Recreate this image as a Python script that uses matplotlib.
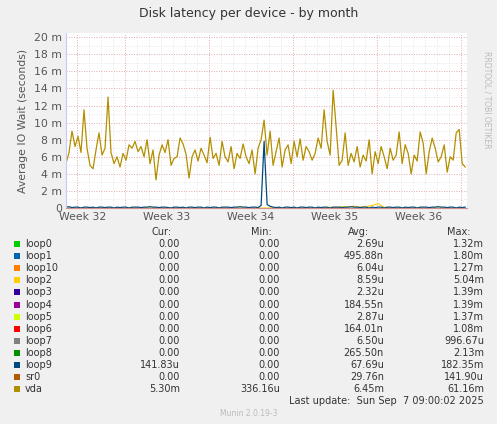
import numpy as np
import matplotlib
matplotlib.use("Agg")
import matplotlib.pyplot as plt

# vda average IO wait (ms), one value every 6 hours
vda = [5.2,6.5,9.0,7.2,8.4,6.5,11.5,7.0,5.0,4.6,6.8,8.8,6.2,7.0,
       13.0,6.5,5.2,6.0,4.8,6.4,5.6,7.4,7.0,7.8,6.6,7.2,6.0,8.0,
       5.2,6.8,3.3,6.2,7.4,6.5,8.0,5.0,5.8,6.0,8.2,7.5,6.3,3.5,
       6.0,6.8,5.5,7.0,6.2,5.3,8.3,5.8,6.4,5.0,7.8,6.0,5.4,7.2,
       4.6,6.4,5.8,7.5,6.0,5.2,6.8,4.0,7.0,8.0,10.3,6.2,9.0,5.0,
       6.6,8.2,4.8,6.8,7.4,5.2,7.8,6.0,8.1,5.6,7.2,6.6,5.6,6.4,
       8.2,7.0,11.5,7.8,6.2,13.8,9.5,5.0,5.6,8.8,5.0,6.4,5.4,7.2,
       4.8,6.2,5.5,8.0,4.0,6.6,5.2,7.2,6.0,4.6,7.0,5.6,6.2,8.9,
       5.2,7.4,6.4,4.0,6.2,5.5,8.9,7.6,4.0,6.6,8.2,7.0,5.4,6.0,
       7.4,4.2,6.0,5.6,8.8,9.2,5.2,4.8]
# loop9 (ms), one value every 6 hours
loop9 = [0.1,0.15,0.05,0.1,0.1,0.0,0.1,0.1,0.05,0.1,0.0,0.1,0.1,0.05,
         0.1,0.1,0.0,0.1,0.05,0.1,0.1,0.0,0.1,0.1,0.1,0.05,0.1,0.1,
         0.15,0.1,0.1,0.05,0.1,0.1,0.05,0.0,0.1,0.1,0.05,0.1,0.0,0.1,
         0.1,0.05,0.1,0.1,0.0,0.1,0.05,0.1,0.1,0.0,0.1,0.1,0.1,0.05,
         0.1,0.1,0.15,0.1,0.1,0.05,0.1,0.1,0.05,0.3,7.8,0.4,0.2,0.1,
         0.05,0.1,0.0,0.1,0.1,0.05,0.1,0.0,0.1,0.1,0.05,0.1,0.1,0.0,
         0.1,0.05,0.1,0.1,0.0,0.1,0.1,0.1,0.05,0.1,0.1,0.15,0.1,0.1,
         0.05,0.1,0.1,0.0,0.1,0.05,0.1,0.1,0.0,0.1,0.1,0.05,0.1,0.1,
         0.0,0.1,0.05,0.1,0.1,0.0,0.1,0.1,0.1,0.05,0.1,0.1,0.15,0.1,
         0.1,0.05,0.1,0.1,0.0,0.1,0.05,0.1]
# loop2 (ms), one value every 12 hours
loop2 = [0.0]*44 + [0.1,0.05,0.15,0.1,0.2,0.1,0.15,0.3,0.5,0.1] + [0.0]*13

names = ["loop0","loop1","loop10","loop2","loop3","loop4","loop5","loop6",
         "loop7","loop8","loop9","sr0","vda"]
colors = ["#00CC00","#0066B3","#FF8000","#FFCC00","#330099","#990099","#CCFF00",
          "#FF0000","#808080","#008F00","#00487D","#B35A00","#B38F00"]
cur = ["0.00","0.00","0.00","0.00","0.00","0.00","0.00","0.00","0.00","0.00","141.83u","0.00","5.30m"]
mins = ["0.00"]*12 + ["336.16u"]
avg = ["2.69u","495.88n","6.04u","8.59u","2.32u","184.55n","2.87u","164.01n",
       "6.50u","265.50n","67.69u","29.76n","6.45m"]
mx = ["1.32m","1.80m","1.27m","5.04m","1.39m","1.39m","1.37m","1.08m",
      "996.67u","2.13m","182.35m","141.90u","61.16m"]
weeks = ["Week 32","Week 33","Week 34","Week 35","Week 36"]

fig = plt.figure(figsize=(4.97, 4.24), dpi=100, facecolor="#F0F0F0")
ax = fig.add_axes([66/497, 1-208/424, 401/497, 175/424], facecolor="white")

t_vda = np.arange(len(vda)) * 0.25
t_l9 = np.arange(len(loop9)) * 0.25
t_half = np.arange(len(loop2)) * 0.5
ax.set_xlim(0, 33.4)
ax.set_ylim(0, 20.5)

for d in np.arange(1, 34):
    ax.axvline(d - 0.1, color="#DDDDDD", lw=0.6, ls=(0, (1, 2)), zorder=0)
for y in range(1, 21):
    ax.axhline(y, color="#DDDDDD", lw=0.6, ls=(0, (1, 2)), zorder=0)
wk = [4.9, 11.9, 18.9, 25.9, 32.9]
for w in [0.9] + wk:
    ax.axvline(w, color="#E8A0A0", lw=0.6, ls=(0, (1, 2)), zorder=0)
for y in range(2, 21, 2):
    ax.axhline(y, color="#E8A0A0", lw=0.6, ls=(0, (1, 2)), zorder=0)

ax.plot(t_vda, vda, color="#B38F00", lw=0.9)
ax.plot(t_half, loop2, color="#FFCC00", lw=0.8)
ax.plot(t_l9, loop9, color="#00487D", lw=0.9)

ax.set_yticks(range(0, 21, 2))
ax.set_yticklabels(["0"] + [f"{v} m" for v in range(2, 21, 2)])
ax.set_xticks([1.4, 8.4, 15.4, 22.4, 29.4])
ax.set_xticklabels(weeks)
ax.tick_params(length=0, labelsize=7.8, colors="#555555", pad=3)
for s in ["top", "right"]:
    ax.spines[s].set_visible(False)
ax.spines["left"].set_color("#C8C8FF")
ax.spines["bottom"].set_color("#D09090")
ax.set_ylabel("Average IO Wait (seconds)", fontsize=7.8, color="#555555")

fig.text(0.5, 1-13/424, "Disk latency per device - by month", ha="center", va="center",
         fontsize=9, color="#333333")
fig.text(487/497, 1-100/424, "RRDTOOL / TOBI OETIKER", rotation=270, ha="center", va="center",
         fontsize=5.5, color="#BBBBBB")

fs = 7
def fy(p):
    return 1 - p/424
for xx, lab in [(172, "Cur:"), (272, "Min:"), (369, "Avg:"), (470, "Max:")]:
    fig.text(xx/497, fy(232), lab, ha="right", va="center", fontsize=fs, color="#333333")
for i, n in enumerate(names):
    y = fy(244 + i*12.1)
    fig.patches.append(plt.Rectangle((14/497, y - 3/424), 6/497, 6/424, transform=fig.transFigure,
                                     facecolor=colors[i], edgecolor="none"))
    fig.text(25/497, y, n, ha="left", va="center", fontsize=fs, color="#333333")
    fig.text(180/497, y, cur[i], ha="right", va="center", fontsize=fs, color="#333333")
    fig.text(280/497, y, mins[i], ha="right", va="center", fontsize=fs, color="#333333")
    fig.text(384/497, y, avg[i], ha="right", va="center", fontsize=fs, color="#333333")
    fig.text(484/497, y, mx[i], ha="right", va="center", fontsize=fs, color="#333333")
fig.text(484/497, fy(401), "Last update:  Sun Sep  7 09:00:02 2025", ha="right", va="center",
         fontsize=fs, color="#333333")
fig.text(0.5, fy(414), "Munin 2.0.19-3", ha="center", va="center", fontsize=5.5, color="#BBBBBB")

fig.savefig("out.png", dpi=100, facecolor=fig.get_facecolor())
